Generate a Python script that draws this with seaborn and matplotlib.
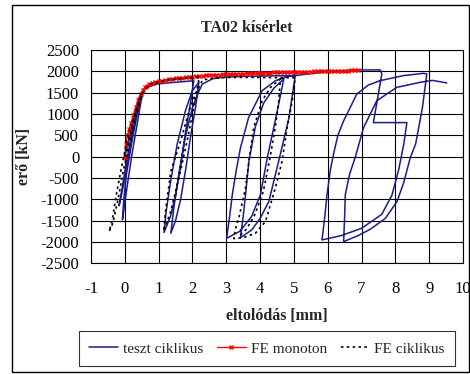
import matplotlib
matplotlib.use("Agg")
import matplotlib.pyplot as plt
import seaborn as sns
import pandas as pd
from matplotlib.patches import Rectangle

# teszt ciklikus (kísérleti görbe, sorrendben)
test_x = [0, 0.2, 0.35, 0.45, 0.52,
          0.35, 0.15, 0.0, -0.1, -0.17,
          -0.05, 0.1, 0.25, 0.4, 0.52,
          0.35, 0.2, 0.05, -0.03, -0.07,
          0.05, 0.2, 0.35, 0.48, 0.56,
          0.7, 0.97, 1.4, 1.8, 2.04,
          1.95, 1.8, 1.65, 1.5, 1.35, 1.16,
          1.22, 1.35, 1.55, 1.8, 2.0, 2.19,
          2.1, 1.95, 1.8, 1.65, 1.5, 1.36,
          1.45, 1.6, 1.8, 2.0, 2.2, 2.29,
          2.6, 3.0, 3.5, 4.0, 4.5, 5.04,
          4.85, 4.55, 4.26, 4.0, 3.75, 3.42,
          3.5, 3.57, 3.67, 3.86, 4.1, 4.4, 4.70,
          4.49, 4.22, 4.01, 3.75, 3.4, 3.01,
          3.1, 3.18, 3.3, 3.42, 3.66, 4.06, 4.45, 4.8, 5.04,
          5.5, 6.0, 6.5, 6.9, 7.55, 7.60, 7.35, 8.34,
          8.25, 8.1, 7.9, 7.6, 7.0, 6.4, 5.83,
          5.9, 5.98, 6.08, 6.17, 6.3, 6.47, 6.86, 7.2, 7.55, 8.24, 8.83, 8.93,
          8.8, 8.6, 8.44, 8.25, 8.05, 7.7, 7.26, 6.9, 6.47,
          6.5, 6.52, 6.65, 6.81, 7.06, 7.45, 8.04, 8.73, 9.1, 9.52]
test_y = [0, 650, 1150, 1450, 1520,
          1000, 200, -500, -900, -1150,
          -600, 100, 700, 1250, 1520,
          950, 300, -400, -1000, -1480,
          -800, 0, 700, 1300, 1560,
          1640, 1706, 1740, 1765, 1784,
          1300, 600, -200, -900, -1400, -1775,
          -1300, -600, 300, 1100, 1550, 1744,
          1200, 500, -300, -1000, -1500, -1796,
          -1200, -400, 500, 1150, 1550, 1700,
          1830, 1870, 1885, 1892, 1898, 1902,
          900, -104, -1048, -1450, -1720, -1897,
          -1400, -890, -104, 700, 1250, 1600, 1824,
          1000, 0, -890, -1400, -1750, -1914,
          -1400, -883, -300, 210, 918, 1548, 1780, 1880, 1902,
          1950, 1990, 2020, 2036, 2036, 1942, 800, 800,
          300, -300, -900, -1350, -1680, -1850, -1952,
          -1500, -890, -300, 54, 500, 840, 1470, 1680, 1784, 1902, 1956, 1942,
          1150, 300, -25, -600, -1050, -1450, -1700, -1850, -1992,
          -1400, -890, -400, -25, 682, 1312, 1626, 1744, 1790, 1730]

# FE monoton
mono_x = [0, 0.03, 0.08, 0.13, 0.18, 0.25, 0.32, 0.4, 0.47, 0.53, 0.6, 0.66, 0.73, 0.8,
          0.9, 1.0, 1.1, 1.2, 1.3, 1.4, 1.5, 1.6, 1.7, 1.8, 1.9, 2.0, 2.1, 2.2, 2.3,
          2.4, 2.5, 2.6, 2.7, 2.8, 2.9, 3.0, 3.1, 3.2, 3.3, 3.4, 3.5, 3.6, 3.7, 3.8,
          3.9, 4.0, 4.1, 4.2, 4.3, 4.4, 4.5, 4.6, 4.7, 4.8, 4.9, 5.0, 5.1, 5.2, 5.3,
          5.4, 5.5, 5.6, 5.7, 5.8, 5.9, 6.0, 6.1, 6.2, 6.3, 6.4, 6.5, 6.6, 6.7, 6.8, 6.9]
mono_y = [0, 300, 500, 650, 780, 970, 1160, 1340, 1470, 1560, 1630, 1670, 1700, 1720,
          1745, 1765, 1785, 1800, 1815, 1827, 1838, 1848, 1857, 1865, 1873, 1880, 1887,
          1893, 1899, 1905, 1910, 1915, 1920, 1925, 1929, 1933, 1937, 1941, 1945, 1948,
          1951, 1954, 1957, 1960, 1963, 1966, 1968, 1971, 1973, 1975, 1978, 1980, 1982,
          1984, 1986, 1988, 1990, 1992, 1994, 1996, 1998, 2000, 2002, 2004, 2006, 2008,
          2010, 2012, 2014, 2016, 2018, 2020, 2022, 2024, 2026]

# FE ciklikus
fe_x = [0, 0.2, 0.45, 0.5, 0.35, 0.15, -0.05, -0.2, -0.35, -0.46,
        -0.36, -0.27, -0.12, 0.08, 0.27, 0.45, 0.57, 0.77, 1.2, 1.6, 2.0, 2.2,
        2.05, 1.85, 1.6, 1.35, 1.15,
        1.2, 1.36, 1.65, 1.90, 2.09, 2.3, 2.7, 3.2, 3.8, 4.4, 5.04,
        4.95, 4.80, 4.65, 4.45, 4.16, 3.86, 3.5, 3.22,
        3.30, 3.37, 3.57, 3.67, 3.81, 4.06, 4.3, 4.6,
        4.55, 4.45, 4.3, 4.1, 3.85, 3.6, 3.35]
fe_y = [0, 700, 1400, 1480, 1000, 350, -350, -1000, -1550, -1756,
        -1442, -970, -340, 446, 918, 1350, 1548, 1706, 1790, 1830, 1850, 1860,
        1200, 400, -500, -1300, -1750,
        -1300, -340, 368, 1076, 1470, 1800, 1850, 1860, 1860, 1855, 1850,
        1312, 682, -104, -734, -1520, -1796, -1900, -1920,
        -1600, -1442, -734, -104, 682, 1312, 1620, 1824,
        1300, 700, 0, -800, -1350, -1700, -1880]

x_ticks = list(range(-1, 11))
y_ticks = list(range(-2500, 2501, 500))

sns.set_style("white")
plt.rcParams["font.family"] = ["Liberation Serif", "DejaVu Serif"]
plt.rcParams["axes.unicode_minus"] = False

fig = plt.figure(figsize=(4.7, 3.74), dpi=100)
ax = fig.add_axes([0.1936, 0.2960, 0.7915, 0.5700])

test_df = pd.DataFrame({"x": test_x, "y": test_y})
mono_df = pd.DataFrame({"x": mono_x, "y": mono_y})
fe_df = pd.DataFrame({"x": fe_x, "y": fe_y})

sns.lineplot(data=test_df, x="x", y="y", sort=False, estimator=None, ax=ax,
             color="#1c1c8c", linewidth=1.1, label="teszt ciklikus")
sns.lineplot(data=mono_df, x="x", y="y", sort=False, estimator=None, ax=ax,
             color="red", linewidth=1.0, marker="x", markersize=3.5,
             markeredgewidth=1.0, markeredgecolor="red", label="FE monoton")
sns.lineplot(data=fe_df, x="x", y="y", sort=False, estimator=None, ax=ax,
             color="black", linewidth=1.2, linestyle=(0, (1.5, 2.0)), label="FE ciklikus")

ax.set_xlim(-1, 10)
ax.set_ylim(-2500, 2500)
ax.set_xticks(x_ticks)
ax.set_yticks(y_ticks)
ax.grid(True, color="black", linewidth=0.8)
ax.set_axisbelow(True)
for sp in ax.spines.values():
    sp.set_color("black")
    sp.set_linewidth(0.8)
ax.tick_params(direction="inout", width=0.8, labelsize=12, colors="black")
ax.tick_params(axis="x", length=8, pad=9)
ax.tick_params(axis="y", length=11, pad=3)
ax.set_xlabel("eltolódás [mm]", fontsize=11.5, fontweight="bold")
ax.set_ylabel("erő [kN]", fontsize=11.5, fontweight="bold")
ax.xaxis.set_label_coords(0.5, -0.21)
ax.yaxis.set_label_coords(-0.158, 0.5)
ax.get_legend().remove()

fig.text(0.525, 0.926, "TA02 kísérlet", ha="center", va="center", fontsize=11.5, fontweight="bold")

handles, labels = ax.get_legend_handles_labels()
leg = fig.legend(handles, labels, loc="center", bbox_to_anchor=(0.568, 0.067), ncol=3,
                 fontsize=11, frameon=True, fancybox=False, edgecolor="black",
                 handlelength=1.9, columnspacing=0.9, handletextpad=0.3, borderpad=0.7,
                 borderaxespad=0.0)
leg.get_frame().set_linewidth(0.8)

fig.patches.append(Rectangle((0.0255, 0.005), 0.972, 0.982, transform=fig.transFigure,
                             fill=False, edgecolor="black", linewidth=1.0))

fig.savefig("out.png", dpi=100)
